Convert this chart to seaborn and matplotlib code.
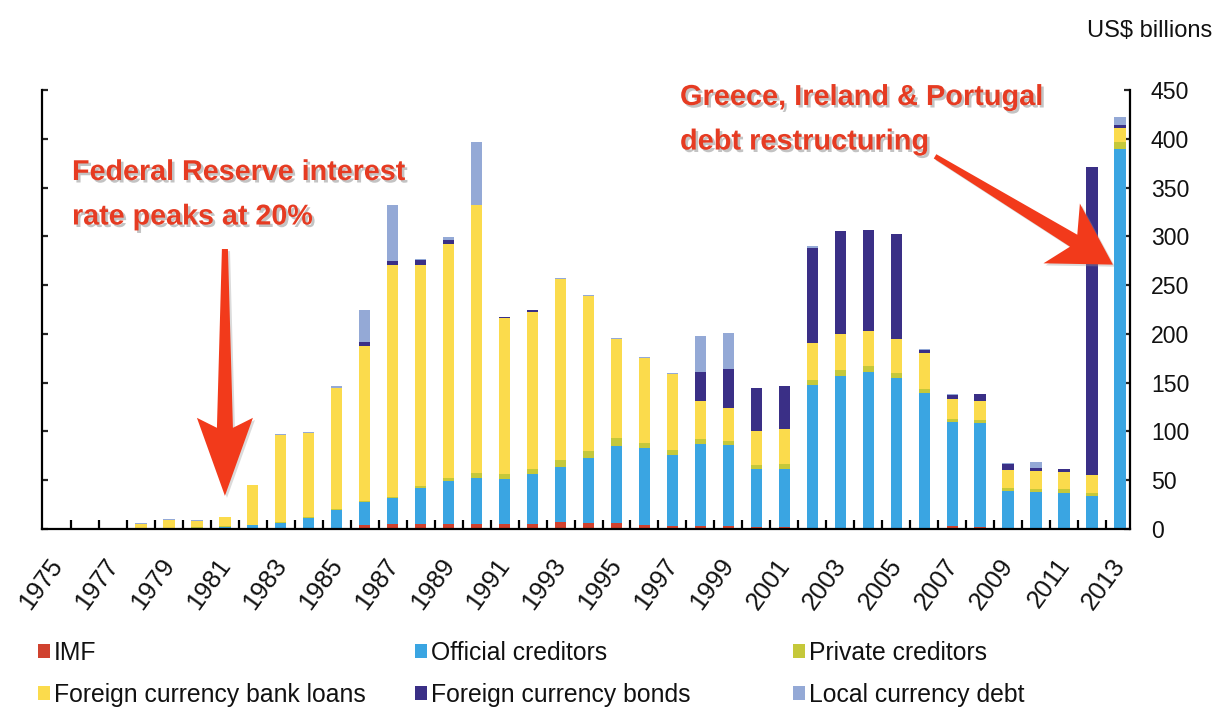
import numpy as np
import pandas as pd
import matplotlib
matplotlib.use("Agg")
import matplotlib.pyplot as plt
import matplotlib.patheffects as pe
import matplotlib.transforms as mtransforms
from matplotlib.patches import Patch, Polygon
from matplotlib import font_manager as fm
import seaborn as sns

# Annual debt restructurings by type of debt, US$ billions
years = list(range(1975, 2014))
imf = [0, 0, 0, 0, 0, 0, 0, 0, 0, 1, 1, 4, 5, 5, 5, 5, 5, 5, 7, 6,
       6, 4, 3, 3, 3, 2, 2, 1, 1, 1, 1, 1, 3, 2, 1, 1, 1, 1, 1]
official = [0, 0, 0, 1, 1, 1.5, 2.5, 4, 6.5, 10, 18, 24, 27, 37, 44, 47, 46, 51, 57, 67,
            79, 79, 73, 84, 83, 59, 60, 147, 156, 160, 154, 138, 107, 107, 38, 37, 36, 33, 389]
private = [0, 0, 0, 0, 0.5, 0.5, 0.5, 0.5, 0.5, 1, 1, 1, 1, 2, 3, 5, 5, 6, 7, 7,
           8, 5, 5, 5, 4, 5, 5, 5, 6, 6, 5, 4, 3, 3, 3, 3, 4, 3, 7]
bank_loans = [0, 0, 0, 4.5, 7.5, 6, 9, 40.5, 89, 86, 125, 159, 238, 227, 240, 275, 160, 160, 185, 159,
              102, 87, 78, 39, 34, 34, 35, 38, 37, 36, 35, 37, 20, 19, 18, 18, 17, 18, 14]
fx_bonds = [0, 0, 0, 0, 0, 0, 0, 0, 0, 0, 0, 4, 4, 5, 4, 0, 1, 2, 0, 0,
            0, 0, 0, 30, 40, 45, 45, 97, 105, 103, 107, 3, 4, 7, 7, 4, 3, 316, 3]
local_debt = [0.5, 0.8, 1.5, 1, 1, 1, 0, 0, 1, 1, 1.5, 32, 57, 1, 3, 65, 0, 0, 1, 1,
              1, 1, 1, 37, 37, 0, 0, 2, 0, 0, 0, 1, 1, 0, 1, 6, 0, 0, 8]

series_names = ["IMF", "Official creditors", "Private creditors",
                "Foreign currency bank loans", "Foreign currency bonds",
                "Local currency debt"]
series_values = [imf, official, private, bank_loans, fx_bonds, local_debt]
series_colors = ["#D0422F", "#3AA5E2", "#C5C83A", "#FBDB4C", "#3A2F86", "#94A9D6"]

year_labels = [str(y) for y in years[::2]]

sns.set_theme(style="white")
available = {f.name for f in fm.fontManager.ttflist}
if "Liberation Sans Narrow" in available:
    family, k = "Liberation Sans Narrow", 1.0
else:
    family, k = "Liberation Sans", 0.85
plt.rcParams["font.family"] = [family, "DejaVu Sans"]

W, H = 1218, 710
fig = plt.figure(figsize=(W / 100, H / 100), dpi=100)
fig.patch.set_facecolor("white")
ax = fig.add_axes([42 / W, 1 - 529 / H, 1088 / W, 439 / H])
ax.set_facecolor("white")

df = pd.DataFrame({"year": [str(y) for y in years]})
for name, vals in zip(series_names, series_values):
    df[name] = vals

# stacked bars, one layer per debt type
base = np.zeros(len(years))
for name, color in zip(series_names, series_colors):
    sns.barplot(data=df, x="year", y=name, color=color, saturation=1,
                width=0.4, errorbar=None, bottom=base.copy(), linewidth=0,
                ax=ax)
    base += df[name].to_numpy(dtype=float)

ax.set_xlim(-0.54, 38.36)
ax.set_ylim(0, 450)
ax.set_xlabel("")
ax.set_ylabel("")
ax.grid(False)

for side in ["left", "right", "bottom"]:
    ax.spines[side].set_visible(True)
    ax.spines[side].set_color("black")
    ax.spines[side].set_linewidth(1.6)
ax.spines["top"].set_visible(False)

# y axis: ticks on both sides, labels on the right
ax.set_yticks(range(0, 451, 50))
ax.tick_params(axis="y", which="major", direction="in", length=4, width=1.6,
               left=True, right=True, labelleft=False, labelright=True,
               pad=15, labelsize=19.5 * k, labelcolor="#111111")

# x axis: tick marks between bars, labels every other year
label_pos = list(range(0, len(years), 2))
ax.set_xticks(label_pos)
ax.set_xticklabels(year_labels)
ax.set_xticks(np.arange(len(years) - 1) + 0.5, minor=True)
ax.tick_params(axis="x", which="major", length=0, pad=18, labelsize=21.5 * k,
               labelcolor="#111111")
ax.tick_params(axis="x", which="minor", direction="in", length=6.5, width=1.6,
               bottom=True, top=False, color="black")
shift = mtransforms.ScaledTranslation(-9 / 100, 0, fig.dpi_scale_trans)
for lab in ax.get_xticklabels():
    lab.set_rotation(54)
    lab.set_ha("right")
    lab.set_va("top")
    lab.set_rotation_mode("anchor")
    lab.set_transform(lab.get_transform() + shift)

fig.text(1212 / W, 1 - 31 / H, "US$ billions", ha="right", va="center",
         fontsize=20 * k, color="#111111")

# annotations
red_text = "#E63B22"
red_arrow = "#F23A1B"
shadow = [pe.SimplePatchShadow(offset=(1.8, -1.8), shadow_rgbFace="#7a7a7a", alpha=0.45),
          pe.Normal()]
fig.text(72 / W, 1 - 158 / H, "Federal Reserve interest\nrate peaks at 20%",
         ha="left", va="top", fontsize=24.3 * k, fontweight="bold",
         color=red_text, linespacing=1.75, path_effects=shadow)
fig.text(680 / W, 1 - 83 / H, "Greece, Ireland & Portugal\ndebt restructuring",
         ha="left", va="top", fontsize=24.5 * k, fontweight="bold",
         color=red_text, linespacing=1.75, path_effects=shadow)


def block_arrow(start, tip, w0, w1, joint, barb_back, head_w, color):
    """Tapered block arrow from start to tip (data coords); sizes in pixels."""
    p0 = ax.transData.transform(start)
    p1 = ax.transData.transform(tip)
    u = (p1 - p0) / np.hypot(*(p1 - p0))
    n = np.array([-u[1], u[0]])
    j = p1 - u * joint
    b = p1 - u * barb_back
    pts = np.array([p0 + n * w0 / 2, j + n * w1 / 2, b + n * head_w / 2, p1,
                    b - n * head_w / 2, j - n * w1 / 2, p0 - n * w0 / 2])
    poly = Polygon(ax.transData.inverted().transform(pts), closed=True,
                   facecolor=color, edgecolor="none", clip_on=False, zorder=5)
    poly.set_path_effects([pe.SimplePatchShadow(offset=(1.5, -1.5),
                                                shadow_rgbFace="#999999", alpha=0.35),
                           pe.Normal()])
    ax.add_patch(poly)


block_arrow((6, 287), (6, 34), 6, 16, 68, 78, 56, red_arrow)
block_arrow((31.39, 382), (37.75, 271), 5, 14, 46, 60, 70, red_arrow)

# legend in three columns
handles = {n: Patch(facecolor=c, edgecolor="none") for n, c in zip(series_names, series_colors)}
columns = [(38, ["IMF", "Foreign currency bank loans"]),
           (415, ["Official creditors", "Foreign currency bonds"]),
           (793, ["Private creditors", "Local currency debt"])]
for xpix, names in columns:
    fig.legend([handles[n] for n in names], names, loc="upper left",
               bbox_to_anchor=(xpix / W, 1 - 641 / H), frameon=False,
               borderpad=0, borderaxespad=0, handlelength=0.5, handleheight=0.5,
               handletextpad=0.15, labelspacing=0.72, fontsize=21 * k,
               labelcolor="#111111")

fig.savefig("out.png", dpi=100, facecolor="white")
